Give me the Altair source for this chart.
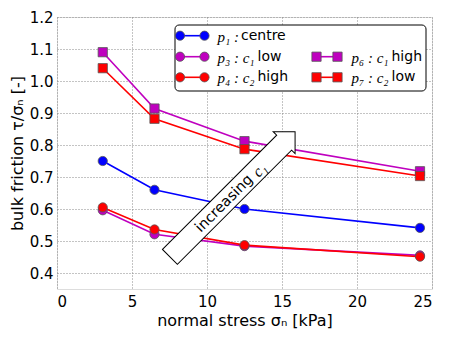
import altair as alt
import pandas as pd

# ---------------- data ----------------
stress = [3.05, 6.5, 12.5, 24.2]
p1 = [0.750, 0.660, 0.600, 0.541]
p3 = [0.596, 0.521, 0.484, 0.455]
p4 = [0.605, 0.536, 0.487, 0.451]
p6 = [1.090, 0.914, 0.812, 0.718]
p7 = [1.040, 0.882, 0.787, 0.703]

series_names = ["p1", "p3", "p4", "p6", "p7"]
series_values = [p1, p3, p4, p6, p7]
series_colors = ["#0000ff", "#bf00bf", "#ff0000", "#bf00bf", "#ff0000"]
series_shapes = ["circle", "circle", "circle", "square", "square"]

legend_math = ["p\u2081 :", "p\u2083 : c\u2081", "p\u2084 : c\u2082", "p\u2086 : c\u2081", "p\u2087 : c\u2082"]
legend_word = ["centre", "low", "high", "high", "low"]

x_ticks = [0, 5, 10, 15, 20, 25]
y_ticks = [0.4, 0.5, 0.6, 0.7, 0.8, 0.9, 1.0, 1.1, 1.2]

arrow_pos = {"stress": [11.7], "friction": [0.646]}
arrow_word = "increasing"
arrow_math = "c\u2081"

x_title = "normal stress \u03c3\u2099  [kPa]"
y_title = "bulk friction \u03c4/\u03c3\u2099  [-]"

# ---------------- layout / style ----------------
W, H = 375, 272
SANS = "DejaVu Sans"
SERIF = "Liberation Serif"
legend_slots = [(0, 0), (0, 1), (0, 2), (1, 1), (1, 2)]
col_line = [(123, 147.5), (259.5, 280.5)]
col_text = [160.5, 294.5]
word_x = [184, 200.5, 200.5, 334.5, 334.5]
row_y = [18.7, 39.7, 60.3]

rows = []
for name, vals in zip(series_names, series_values):
    for s, v in zip(stress, vals):
        rows.append({"series": name, "stress": s, "friction": v})
df = pd.DataFrame(rows)

color_scale = alt.Scale(domain=series_names, range=series_colors)
shape_scale = alt.Scale(domain=series_names, range=series_shapes)

x_enc = alt.X(
    "stress:Q",
    scale=alt.Scale(domain=[0, 25], nice=False, zero=False),
    axis=alt.Axis(
        values=x_ticks, tickCount=len(x_ticks), format="d", title=x_title, labelOverlap=False,
        labelFont=SANS, labelFontSize=15, labelColor="black", labelPadding=5,
        titleFont=SANS, titleFontSize=16, titleFontWeight="normal", titleColor="black",
        titlePadding=3, tickSize=0, domain=False,
        grid=True, gridColor="#888888", gridDash=[1, 2], gridWidth=1,
    ),
)
y_enc = alt.Y(
    "friction:Q",
    scale=alt.Scale(domain=[0.35, 1.2], nice=False, zero=False),
    axis=alt.Axis(
        values=y_ticks, tickCount=len(y_ticks), format=".1f", title=y_title, labelOverlap=False,
        labelFont=SANS, labelFontSize=15, labelColor="black", labelPadding=4,
        titleFont=SANS, titleFontSize=16, titleFontWeight="normal", titleColor="black",
        titleX=-40, titleBaseline="middle", tickSize=0, domain=False,
        grid=True, gridColor="#888888", gridDash=[1, 2], gridWidth=1,
    ),
)

lines = alt.Chart(df).mark_line(strokeWidth=1.6).encode(
    x=x_enc, y=y_enc,
    color=alt.Color("series:N", scale=color_scale, legend=None),
    detail="series:N",
)
points = alt.Chart(df).mark_point(
    filled=True, size=85, stroke="#555555", strokeWidth=0.8, opacity=1
).encode(
    x="stress:Q", y="friction:Q",
    color=alt.Color("series:N", scale=color_scale, legend=None),
    shape=alt.Shape("series:N", scale=shape_scale, legend=None),
)

ARROW_PATH = "M-1,-0.119 L0.825,-0.119 L0.825,-0.175 L1,0 L0.825,0.175 L0.825,0.119 L-1,0.119 Z"
adf = pd.DataFrame(arrow_pos)
arrow = alt.Chart(adf).mark_point(
    shape=ARROW_PATH, size=177 ** 2, angle=315, filled=True,
    fill="white", stroke="black", strokeWidth=1, opacity=1,
).encode(x="stress:Q", y="friction:Q")
arrow_t1 = alt.Chart(adf).mark_text(
    angle=315, dx=-12.5, dy=1, align="center", baseline="middle",
    font=SANS, fontSize=14.5, color="black",
).encode(x="stress:Q", y="friction:Q", text=alt.value(arrow_word))
arrow_t2 = alt.Chart(adf).mark_text(
    angle=315, dx=30, dy=2, align="left", baseline="middle",
    font=SERIF, fontStyle="italic", fontSize=16, color="black",
).encode(x="stress:Q", y="friction:Q", text=alt.value(arrow_math))

one = pd.DataFrame({"k": [0]})
legend_layers = [
    alt.Chart(one).mark_rect(
        fill="white", stroke="black", strokeWidth=1, cornerRadius=4
    ).encode(x=alt.value(118), x2=alt.value(369), y=alt.value(8), y2=alt.value(74))
]
for i, name in enumerate(series_names):
    c, r = legend_slots[i]
    y = row_y[r]
    x0, x1 = col_line[c]
    col = series_colors[i]
    legend_layers.append(
        alt.Chart(one).mark_rule(color=col, strokeWidth=1.6).encode(
            x=alt.value(x0), x2=alt.value(x1), y=alt.value(y))
    )
    for xx in (x0, x1):
        legend_layers.append(
            alt.Chart(one).mark_point(
                filled=True, size=85, shape=series_shapes[i], fill=col,
                stroke="#555555", strokeWidth=0.8, opacity=1,
            ).encode(x=alt.value(xx), y=alt.value(y))
        )
    legend_layers.append(
        alt.Chart(one).mark_text(
            align="left", baseline="middle", font=SERIF, fontStyle="italic",
            fontSize=15, color="black",
        ).encode(x=alt.value(col_text[c]), y=alt.value(y + 1), text=alt.value(legend_math[i]))
    )
    legend_layers.append(
        alt.Chart(one).mark_text(
            align="left", baseline="middle", font=SANS, fontSize=14, color="black",
        ).encode(x=alt.value(word_x[i]), y=alt.value(y), text=alt.value(legend_word[i]))
    )

chart = alt.layer(lines, points, arrow, arrow_t1, arrow_t2, *legend_layers).properties(
    width=W, height=H,
    autosize=alt.AutoSizeParams(type="none"),
    padding={"left": 49, "top": 9, "right": 15, "bottom": 45},
).configure_view(stroke="black", strokeWidth=1.2).configure(background="white")

chart.save("out.html", embed_options={"renderer": "svg", "actions": False})
